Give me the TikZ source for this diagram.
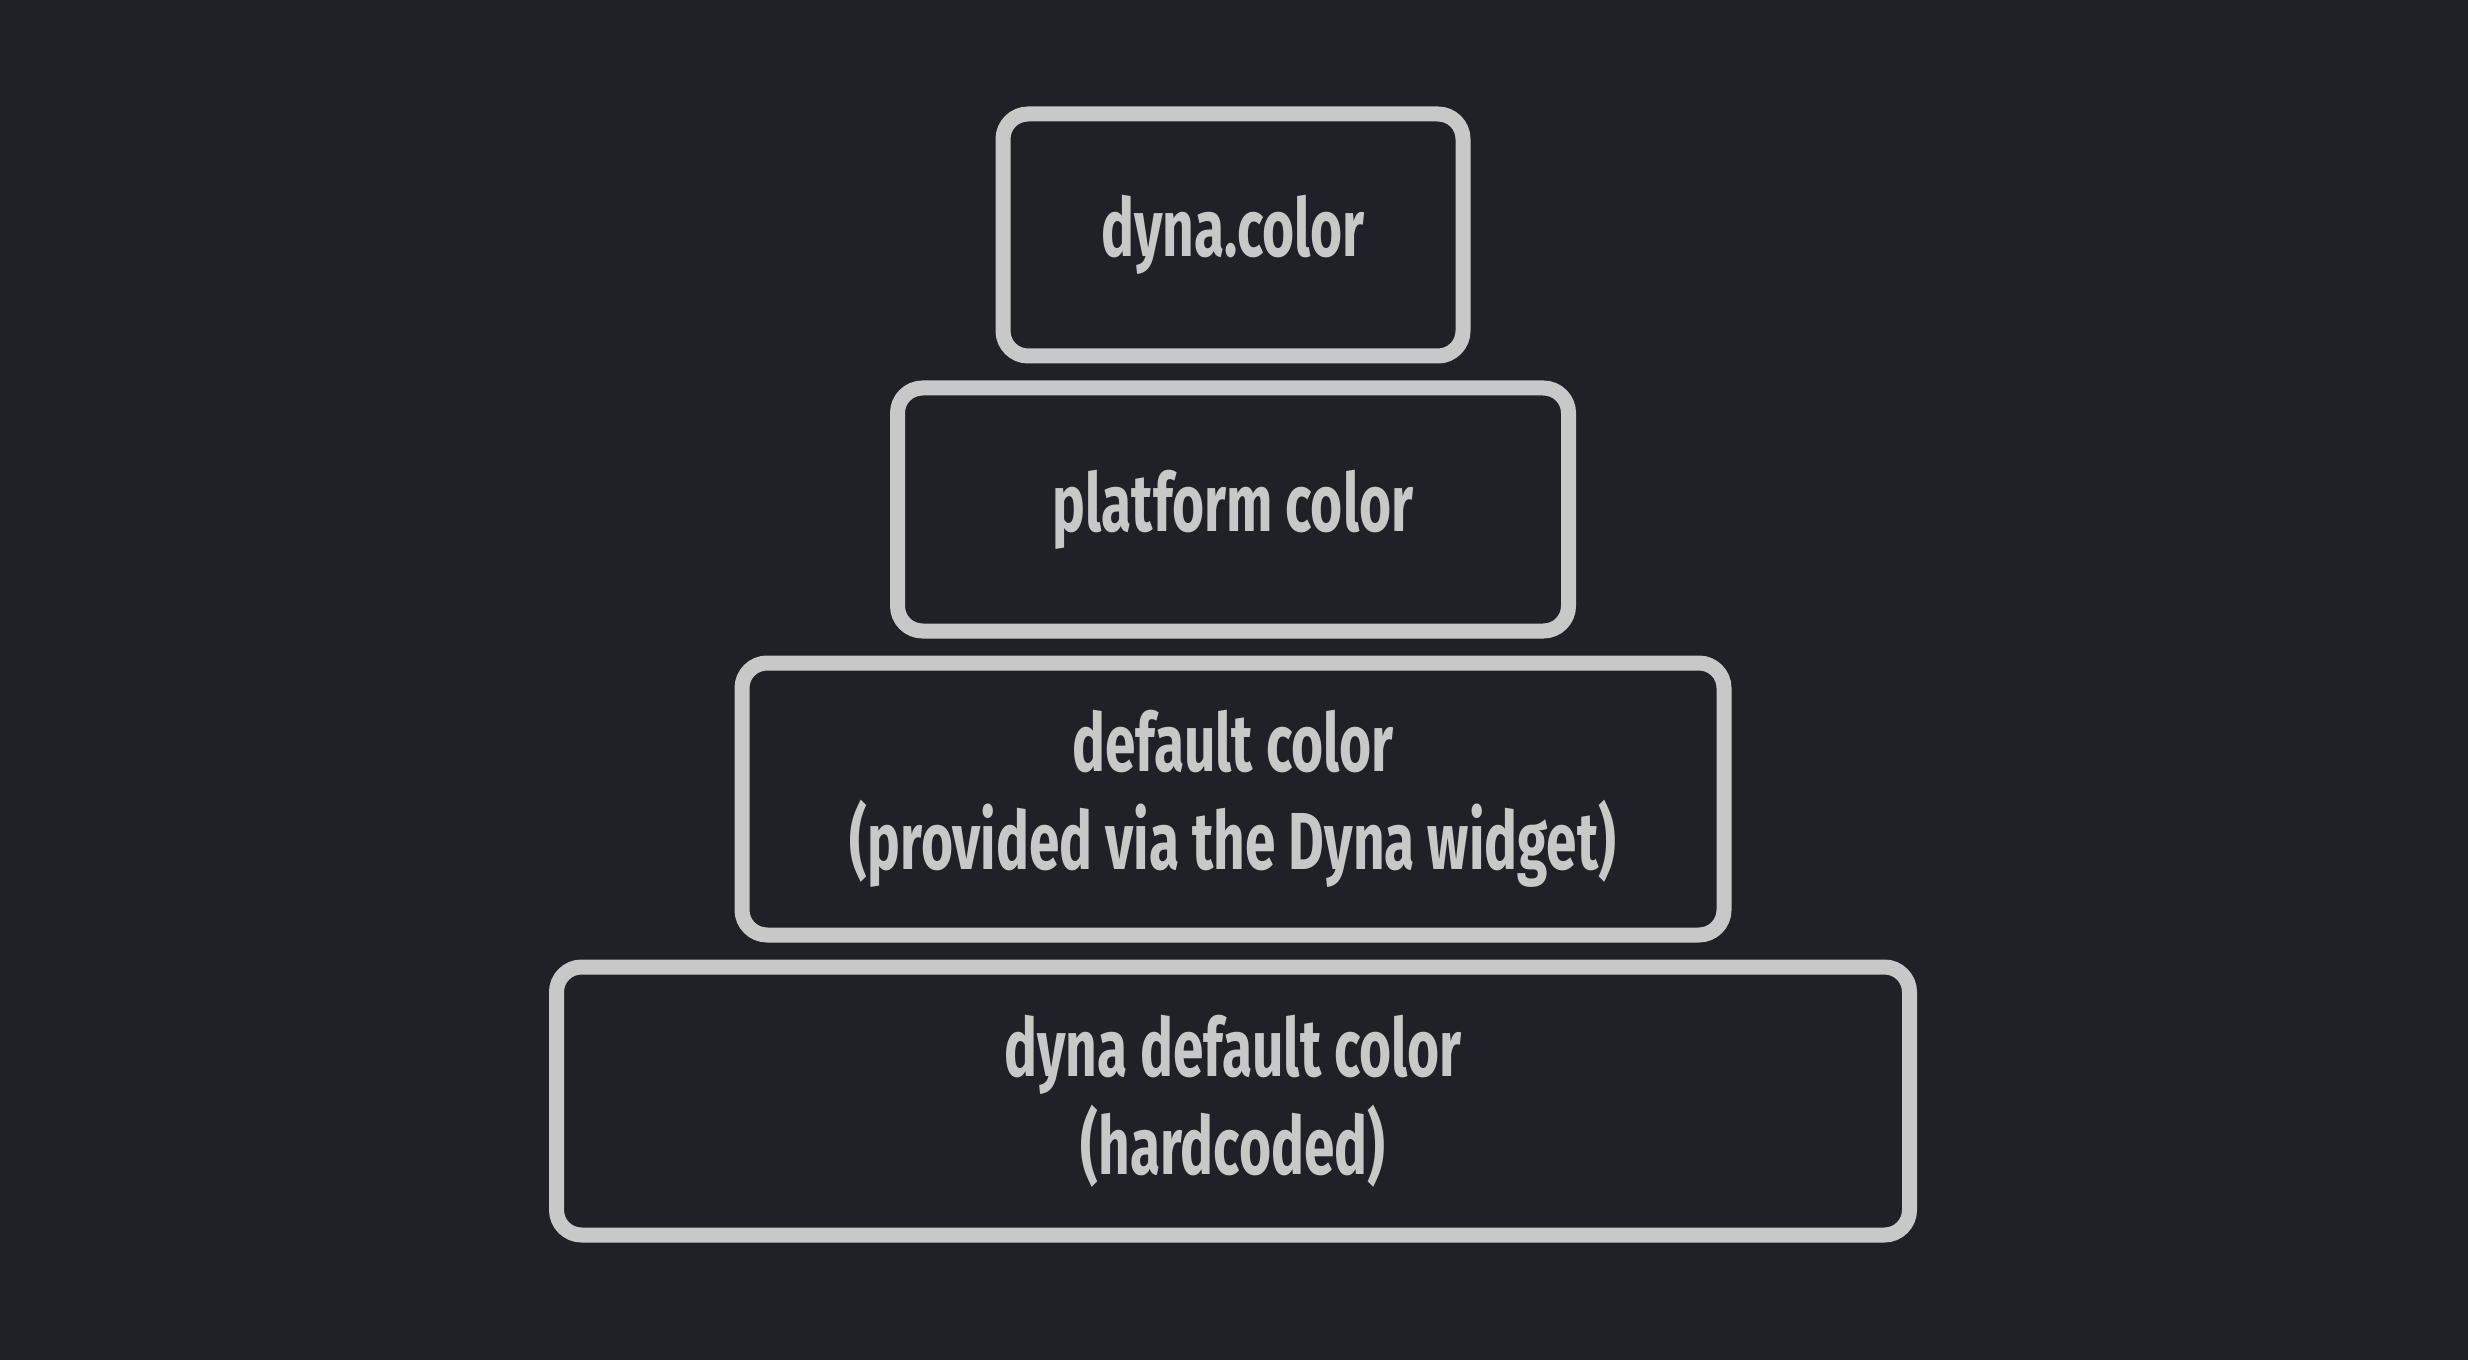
\documentclass[tikz,border=0pt]{standalone}
\usepackage{fontspec}
\usepackage{tikz}
\usetikzlibrary{positioning}
\newfontfamily\handfont{Fira Sans}[FakeStretch=0.68]
\definecolor{bgdark}{HTML}{1F2126}
\definecolor{chalk}{HTML}{C8C8C8}

\begin{document}
\begin{tikzpicture}[
  tier/.style={draw=chalk, line width=0.15cm, rounded corners=0.25cm, outer sep=0pt,
    align=center, text=chalk, font=\handfont\bfseries\fontsize{23}{28}\selectfont},
  node distance=0.32cm]
\fill[bgdark] (0,0) rectangle (24.68,-13.60);
\useasboundingbox (0,0) rectangle (24.68,-13.60);
 \node[tier, minimum width=4.60cm, minimum height=2.42cm] (dyna) at (12.33,-2.35) {dyna.color};
 \node[tier, minimum width=6.71cm, minimum height=2.43cm, below=of dyna] (platform) {platform color};
 \node[tier, minimum width=9.82cm, minimum height=2.72cm, below=of platform] (default) {default color\\(provided via the Dyna widget)};
 \node[tier, minimum width=13.53cm, minimum height=2.68cm, below=of default] (hardcoded) {dyna default color\\(hardcoded)};
\end{tikzpicture}
\end{document}
